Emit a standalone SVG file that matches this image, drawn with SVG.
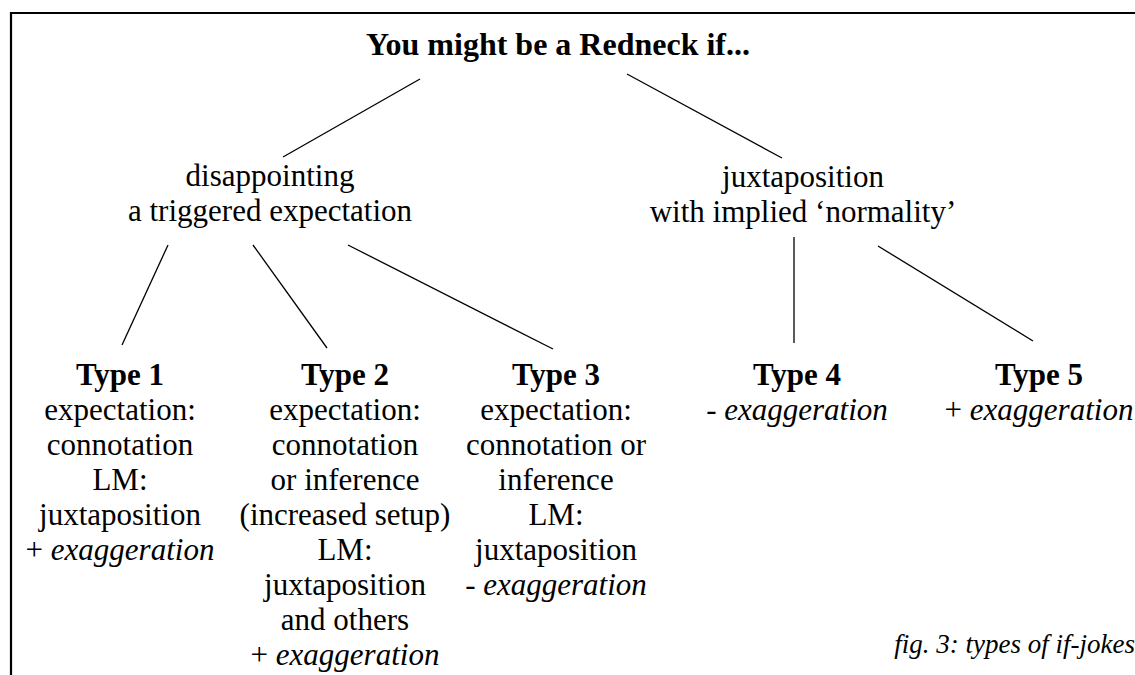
<svg xmlns="http://www.w3.org/2000/svg" width="1135" height="675" viewBox="0 0 1135 675">
<style>
text{font-family:"Liberation Serif","Times New Roman",serif;font-size:31px;fill:#000;text-anchor:middle}
.b{font-weight:bold}
.i{font-style:italic}
.t{font-size:32px;font-weight:bold}
.cap{font-size:27px;font-style:italic;text-anchor:end}
.frame{fill:none;stroke:#000;stroke-width:2.2}
#connectors line{stroke:#000;stroke-width:1.3}
</style>
<rect width="1135" height="675" fill="#fff"/>
<path class="frame" d="M11 675 V13 H1135"/>
<g id="connectors">
<line x1="420" y1="79" x2="283" y2="157"/>
<line x1="627" y1="74" x2="782" y2="158"/>
<line x1="168" y1="245" x2="122" y2="345"/>
<line x1="253" y1="245" x2="327" y2="348"/>
<line x1="348" y1="245" x2="553" y2="349"/>
<line x1="794" y1="237" x2="794" y2="343"/>
<line x1="878" y1="246" x2="1033" y2="341"/>
</g>
<g id="root"><text class="t" x="558" y="55">You might be a Redneck if...</text></g>
<g id="disappointing">
<text x="270" y="186">disappointing</text>
<text x="270" y="221">a triggered expectation</text>
</g>
<g id="juxtaposition">
<text x="803" y="187">juxtaposition</text>
<text x="803" y="222">with implied ‘normality’</text>
</g>
<g id="type1">
<text class="b" x="120" y="385">Type 1</text>
<text x="120" y="420">expectation:</text>
<text x="120" y="455">connotation</text>
<text x="120" y="490">LM:</text>
<text x="120" y="525">juxtaposition</text>
<text x="120" y="560">+ <tspan class="i">exaggeration</tspan></text>
</g>
<g id="type2">
<text class="b" x="345" y="385">Type 2</text>
<text x="345" y="420">expectation:</text>
<text x="345" y="455">connotation</text>
<text x="345" y="490">or inference</text>
<text x="345" y="525">(increased setup)</text>
<text x="345" y="560">LM:</text>
<text x="345" y="595">juxtaposition</text>
<text x="345" y="630">and others</text>
<text x="345" y="665">+ <tspan class="i">exaggeration</tspan></text>
</g>
<g id="type3">
<text class="b" x="556" y="385">Type 3</text>
<text x="556" y="420">expectation:</text>
<text x="556" y="455">connotation or</text>
<text x="556" y="490">inference</text>
<text x="556" y="525">LM:</text>
<text x="556" y="560">juxtaposition</text>
<text x="556" y="595">- <tspan class="i">exaggeration</tspan></text>
</g>
<g id="type4">
<text class="b" x="797" y="385">Type 4</text>
<text x="797" y="420">- <tspan class="i">exaggeration</tspan></text>
</g>
<g id="type5">
<text class="b" x="1039" y="385">Type 5</text>
<text x="1039" y="420">+ <tspan class="i">exaggeration</tspan></text>
</g>
<g id="caption"><text class="cap" x="1135" y="653">fig. 3: types of if-jokes</text></g>
</svg>
